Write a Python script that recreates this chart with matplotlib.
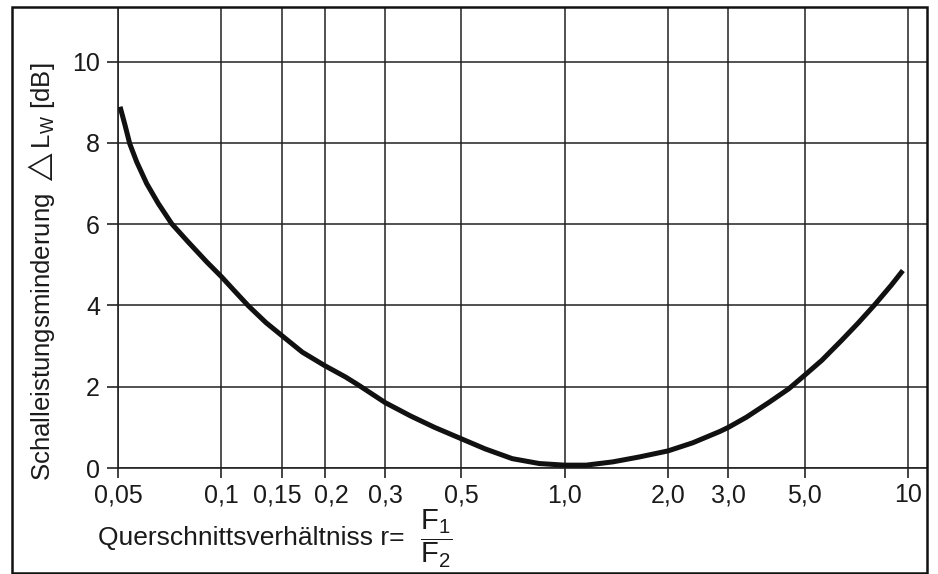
import matplotlib
matplotlib.use('Agg')
import matplotlib.pyplot as plt
import matplotlib.transforms as mtransforms
import numpy as np
from matplotlib.patches import Rectangle

plt.rcParams['font.family'] = ['Liberation Sans', 'DejaVu Sans']
plt.rcParams['mathtext.fontset'] = 'custom'
plt.rcParams['mathtext.rm'] = 'Liberation Sans'
plt.rcParams['mathtext.it'] = 'Liberation Sans'
plt.rcParams['mathtext.bf'] = 'Liberation Sans:bold'

# curve (r, dB)
ratio = [0.0507, 0.0524, 0.0541, 0.0567, 0.0606, 0.0655, 0.0717, 0.0801, 0.0907,
         0.1, 0.1089, 0.1199, 0.1348, 0.15, 0.1722, 0.2, 0.230, 0.251, 0.3,
         0.356, 0.418, 0.5, 0.587, 0.704, 0.844, 1.0, 1.155, 1.38, 1.647, 2.0,
         2.362, 2.835, 3.0, 3.386, 3.948, 4.50, 5.0, 5.615, 6.41, 7.17, 8.01, 8.95, 9.67]
reduction = [8.89, 8.44, 7.98, 7.53, 7.0, 6.51, 6.01, 5.56, 5.07,
             4.71, 4.37, 3.99, 3.58, 3.26, 2.85, 2.52, 2.24, 2.04, 1.61,
             1.28, 1.0, 0.72, 0.47, 0.23, 0.11, 0.07, 0.07, 0.15, 0.27, 0.42,
             0.62, 0.9, 1.0, 1.25, 1.62, 1.95, 2.28, 2.65, 3.14, 3.57, 4.02, 4.5, 4.86]

xticks = [0.05, 0.1, 0.15, 0.2, 0.3, 0.5, 1.0, 2.0, 3.0, 5.0, 10]
xticklabels = ['0,05', '0,1', '0,15', '0,2', '0,3', '0,5', '1,0', '2,0', '3,0', '5,0', '10']
yticks = [0, 2, 4, 6, 8, 10]

W, H = 938, 574
fig = plt.figure(figsize=(W / 100, H / 100), dpi=100)
ax = fig.add_axes([118 / W, 1 - 468 / H, (927 - 118) / W, (468 - 8) / H])

ax.plot(ratio, reduction, color='#111111', lw=3.6, solid_capstyle='butt',
        solid_joinstyle='round', zorder=3)

ax.set_xscale('log')
ax.set_xlim(0.05, 11.37)
ax.set_ylim(0, 11.32)
ax.set_xticks(xticks)
ax.set_xticklabels(xticklabels)
ax.xaxis.set_minor_locator(matplotlib.ticker.NullLocator())
ax.set_yticks(yticks)
ax.grid(True, color='#222222', lw=1.1)
ax.tick_params(axis='both', labelsize=18, colors='#222222', labelcolor='#1a1a1a', width=1.2)
ax.tick_params(axis='y', length=8, pad=5)
ax.tick_params(axis='x', length=7, pad=4)
for s in ['top', 'right']:
    ax.spines[s].set_visible(False)
for s in ['left', 'bottom']:
    ax.spines[s].set_color('#222222')
    ax.spines[s].set_linewidth(1.2)

# the printed labels 0,15 and 0,2 sit a little apart from their grid lines
shifts = {'0,15': -4, '0,2': 7}
for lab in ax.get_xticklabels():
    dx = shifts.get(lab.get_text(), 0)
    if dx:
        lab.set_transform(lab.get_transform() +
                          mtransforms.ScaledTranslation(dx / 100, 0, fig.dpi_scale_trans))

# outer frame
fig.patches.append(Rectangle((12 / W, 1 - 573 / H), (927 - 12) / W, (573 - 7) / H,
                             transform=fig.transFigure, fill=False,
                             edgecolor='#111111', lw=1.8))

fig.text(42 / W, 1 - 272 / H, r'Schalleistungsminderung $\triangle\mathrm{L_W}$ [dB]',
         rotation=90, ha='center', va='center', fontsize=18.5, color='#1a1a1a')
fig.text(98 / W, 1 - 545 / H, 'Querschnittsverhältniss r=',
         ha='left', va='baseline', fontsize=19, color='#1a1a1a')
fig.text(420 / W, 1 - 539 / H, r'$\dfrac{\mathrm{F_1}}{\mathrm{F_2}}$',
         ha='left', va='center', fontsize=21, color='#1a1a1a')

plt.savefig('out.png', dpi=100)
